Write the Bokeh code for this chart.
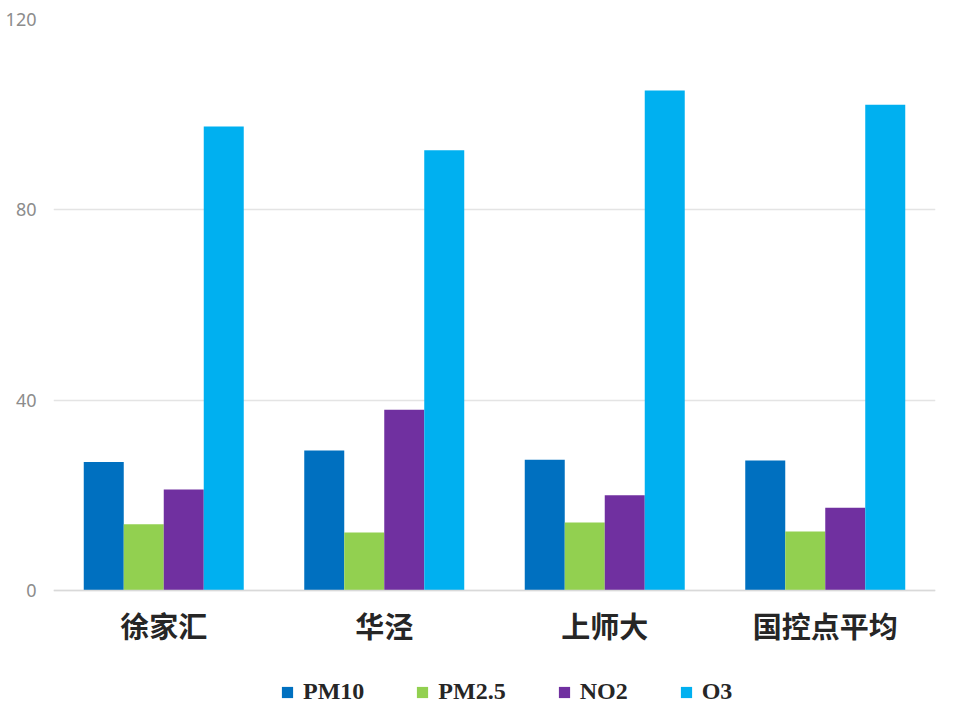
from bokeh.plotting import figure
from bokeh.models import ColumnDataSource, FactorRange, Range1d, FixedTicker, Legend, LegendItem, Span
from bokeh.core.properties import value
from bokeh.transform import dodge
from bokeh.embed import file_html
from bokeh.resources import INLINE

sites = ["徐家汇", "华泾", "上师大", "国控点平均"]
series = ["PM10", "PM2.5", "NO2", "O3"]
pm10 = [27.0, 29.4, 27.5, 27.3]
pm25 = [13.9, 12.2, 14.3, 12.4]
no2 = [21.2, 38.0, 20.0, 17.4]
o3 = [97.5, 92.5, 105.1, 102.1]
colors = ["#0070C0", "#92D050", "#7030A0", "#00B0F0"]
y_ticks = [0, 40, 80, 120]

source = ColumnDataSource(data=dict(site=sites, PM10=pm10, PM25=pm25, NO2=no2, O3=o3))
cols = ["PM10", "PM25", "NO2", "O3"]

# frame extends below zero to hold category labels and legend
p = figure(width=944, height=704, x_range=FactorRange(*sites), y_range=Range1d(-23.96, 120),
           output_backend="svg", toolbar_location=None, x_axis_location=None,
           min_border_left=53, min_border_right=9, min_border_top=19, min_border_bottom=0)
p.outline_line_color = None
p.background_fill_color = "white"
p.border_fill_color = "white"

bw = 0.1814
offsets = [-1.5 * bw, -0.5 * bw, 0.5 * bw, 1.5 * bw]
renderers = []
for c, off, col in zip(cols, offsets, colors):
    r = p.vbar(x=dodge("site", off, range=p.x_range), top=c, bottom=0, width=bw, source=source,
               fill_color=col, line_color=None)
    renderers.append(r)

p.add_layout(Span(location=0, dimension="width", line_color="#d9d9d9", line_width=1.5))

p.text(x="site", y=-7.15, text="site", source=source,
       text_font=value("Noto Sans CJK SC"), text_font_style="bold", text_font_size="29px",
       text_color="#262626", text_align="center", text_baseline="middle")

p.xgrid.grid_line_color = None
p.ygrid.grid_line_color = "#e4e4e4"
p.ygrid.grid_line_width = 1.5
p.yaxis.ticker = FixedTicker(ticks=y_ticks)
p.yaxis.axis_line_color = None
p.yaxis.major_tick_line_color = None
p.yaxis.minor_tick_line_color = None
p.yaxis.major_label_text_font = "Noto Sans"
p.yaxis.major_label_text_font_size = "18px"
p.yaxis.major_label_text_color = "#8c8c8c"
p.yaxis.major_label_standoff = 11

legend = Legend(items=[LegendItem(label=s, renderers=[r]) for s, r in zip(series, renderers)],
                orientation="horizontal", location=(227, -1),
                border_line_color=None, background_fill_alpha=0,
                glyph_width=14, glyph_height=14, label_standoff=9, spacing=51,
                padding=0, margin=0,
                label_text_font="Liberation Serif", label_text_font_style="bold",
                label_text_font_size="24px", label_text_color="#262626")
p.add_layout(legend, "center")

open("out.html", "w").write(file_html(p, INLINE))
